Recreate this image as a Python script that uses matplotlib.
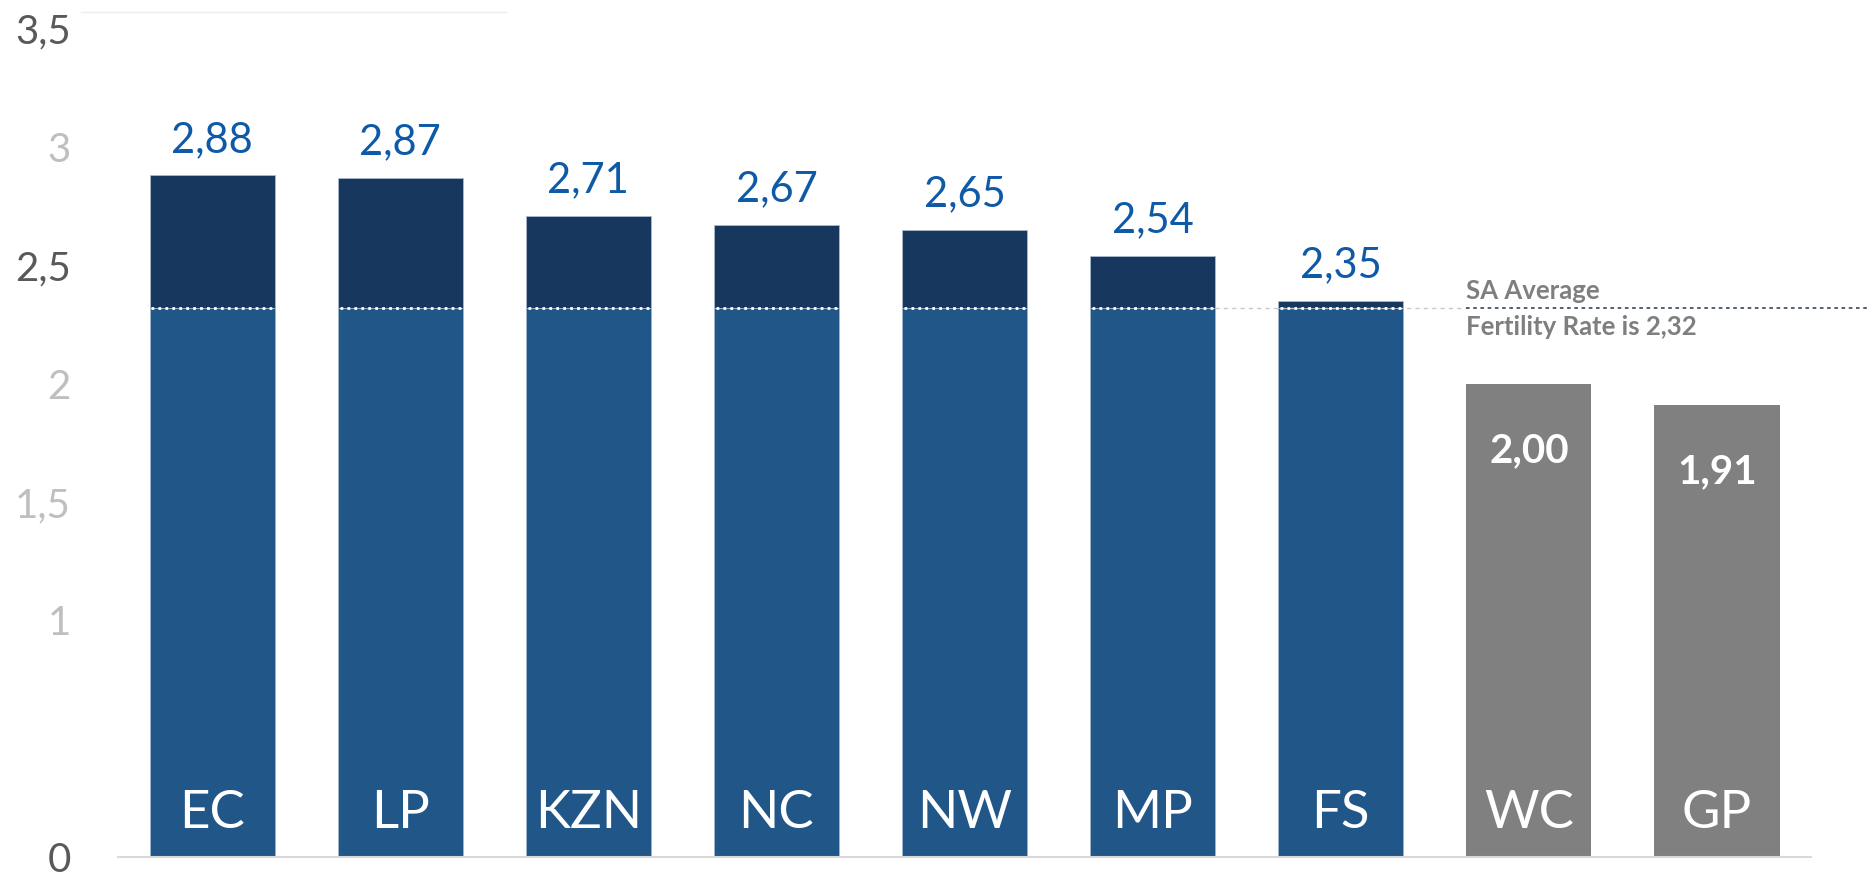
import numpy as np
import matplotlib
matplotlib.use('Agg')
import matplotlib.pyplot as plt

# provincial total fertility rates
regions = ['EC', 'LP', 'KZN', 'NC', 'NW', 'MP', 'FS', 'WC', 'GP']
rates = [2.88, 2.87, 2.71, 2.67, 2.65, 2.54, 2.35, 2.00, 1.91]
sa_avg = 2.32

ytick_vals = [0, 1, 1.5, 2, 2.5, 3, 3.5]
ytick_labels = ['0', '1', '1,5', '2', '2,5', '3', '3,5']
ytick_colors = ['#595959', '#bfbfbf', '#bfbfbf', '#bfbfbf', '#595959', '#bfbfbf', '#595959']

BLUE = '#215688'
NAVY = '#17375e'
GREY = '#808080'
LABEL_BLUE = '#0e5aa7'

plt.rcParams['font.family'] = ['Lato', 'DejaVu Sans']

fig = plt.figure(figsize=(18.68, 8.72), dpi=100)
ax = fig.add_axes([0.0632, 0.0172, 0.9063, 0.969])

x = np.arange(len(regions))
width = 0.665
rates = np.array(rates)
above = rates > sa_avg

# bars above the national average: blue base up to the average, navy on top
base = np.where(above, sa_avg, rates)
ax.bar(x[above], base[above], width, color=BLUE, edgecolor='#9fb6cc', linewidth=0.6)
ax.bar(x[above], rates[above] - sa_avg, width, bottom=sa_avg, color=NAVY,
       edgecolor='#a9bbcc', linewidth=0.6)
ax.bar(x[~above], rates[~above], width, color=GREY, linewidth=0)

# white dotted average line across each blue bar
for xi in x[above]:
    ax.hlines(sa_avg, xi - width / 2 + 0.01, xi + width / 2 - 0.01, colors='white',
              linestyles=(0, (1, 1.5)), linewidth=2, zorder=3)

# dashed average line to the right
last_above = x[above][-1]
first_below = x[~above][0]
ax.hlines(sa_avg, last_above - 1 + width / 2, first_below - width / 2, colors='#c8c8c8',
          linestyles=(0, (3, 3)), linewidth=1, zorder=1)
ax.hlines(sa_avg, first_below - width / 2, len(regions) - 0.5 + 0.3, colors='#44546a',
          linestyles=(0, (2, 2)), linewidth=1.3, clip_on=False, zorder=1)

ax.annotate('SA Average', (first_below - width / 2, sa_avg), xytext=(0, 12),
            textcoords='offset points', ha='left', va='center', fontsize=18.5,
            fontweight='bold', color='#7f7f7f')
ax.annotate('Fertility Rate is 2,32', (first_below - width / 2, sa_avg), xytext=(0, -14),
            textcoords='offset points', ha='left', va='center', fontsize=18.5,
            fontweight='bold', color='#7f7f7f')

# value labels
for xi, r, a in zip(x, rates, above):
    txt = f'{r:.2f}'.replace('.', ',')
    if a:
        ax.annotate(txt, (xi, r), xytext=(0, 17), textcoords='offset points',
                    ha='center', va='baseline', fontsize=30, color=LABEL_BLUE)
    else:
        ax.annotate(txt, (xi, r), xytext=(0, -48), textcoords='offset points',
                    ha='center', va='center', fontsize=29, fontweight='bold', color='white')

# category labels inside the bars
for xi, name in zip(x, regions):
    ax.annotate(name, (xi, 0), xytext=(0, 21), textcoords='offset points',
                ha='center', va='baseline', fontsize=38, color='white')

ax.set_xlim(-0.5, len(regions) - 0.5)
ax.set_ylim(0, 3.57)
ax.set_xticks([])
ax.set_yticks(ytick_vals)
ax.set_yticklabels(ytick_labels, fontsize=29)
for lbl, c in zip(ax.get_yticklabels(), ytick_colors):
    lbl.set_color(c)
ax.tick_params(axis='y', length=0, pad=34)

for s in ['top', 'right', 'left']:
    ax.spines[s].set_visible(False)
ax.spines['bottom'].set_color('#d9d9d9')
ax.spines['bottom'].set_linewidth(1.5)

# faint stub of a gridline at the top
ax.axhline(3.57, xmin=-0.022, xmax=0.229, color='#eeeeee', linewidth=1, clip_on=False)

fig.savefig('out.png', dpi=100)
